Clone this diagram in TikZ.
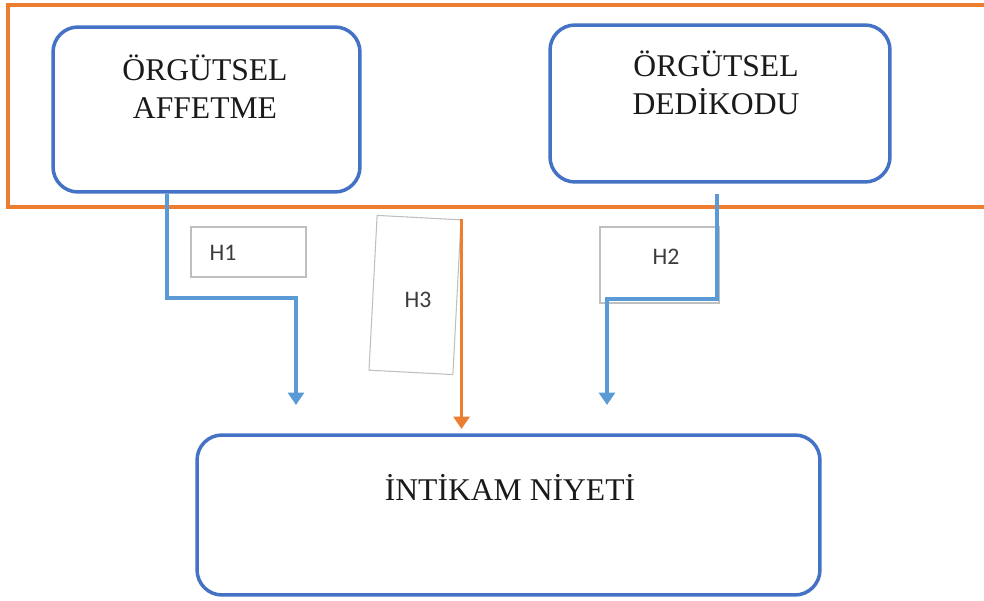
\documentclass[tikz,border=0pt]{standalone}
\usepackage{fontspec}
\setmainfont{Liberation Serif}
\newfontfamily\hfont{Carlito}
\usepackage{xcolor}
\usepackage{tikz}
\usetikzlibrary{arrows.meta}
\definecolor{frameor}{HTML}{ED7D31}
\definecolor{boxblue}{HTML}{4472C4}
\definecolor{linkblue}{HTML}{5B9BD5}
\definecolor{hgray}{HTML}{BFBFBF}
\definecolor{ink}{HTML}{1A1A1A}
\tikzset{
  grp/.style={draw=frameor, line width=2.3pt},
  varbox/.style={draw=boxblue, line width=2pt, rounded corners=0.5cm, inner sep=0pt},
  vartxt/.style={text=ink, font=\fontsize{18}{21.5}\selectfont, align=center, inner sep=0pt},
  hbox/.style={draw=hgray, line width=0.6pt, inner sep=0pt},
  htxt/.style={text=ink!85, font=\hfont\fontsize{13.5}{16}\selectfont, inner sep=0pt},
  link/.style={draw=linkblue, line width=2.2pt, -{Triangle[width=9pt,length=7pt]}},
  olink/.style={draw=frameor, line width=1.8pt, -{Triangle[width=9pt,length=7pt]}}
}
\begin{document}
\begin{tikzpicture}[x=0.02cm, y=-0.02cm]
\clip (0,0) rectangle (984,601);
% frame round the two predictors
\draw[grp] (8,5) rectangle (1010,207);

% variables
\node[varbox, minimum width=6.14cm, minimum height=3.3cm] (affet) at (206.5,109.5) {};
\node[vartxt] (affettxt) at (205,87) {ÖRGÜTSEL\\AFFETME};
\node[varbox, minimum width=6.8cm, minimum height=3.14cm] (dedi) at (720,103.5) {};
\node[vartxt] (deditxt) at (716,83) {ÖRGÜTSEL\\DEDİKODU};
\node[varbox, minimum width=12.46cm, minimum height=3.2cm] (niyet) at (508.5,515) {};
\node[vartxt] (niyettxt) at (510,487) {İNTİKAM NİYETİ};

% hypothesis labels
\node[hbox, minimum width=2.3cm, minimum height=1cm] (h1box) at (248.5,252) {};
\node[htxt] (h1) at (223,253) {H1};
\node[hbox, minimum width=2.38cm, minimum height=1.52cm] (h2box) at (659.5,265) {};
\node[htxt] (h2) at (666,257) {H2};
\node[hbox, rotate=-3, minimum width=1.68cm, minimum height=3.1cm] (h3box) at (415,295) {};
\node[htxt] (h3) at (418,300) {H3};

% paths
\coordinate (h1tip) at (296,405);
\coordinate (h2tip) at (607,405);
\coordinate (h3tip) at (462,429);
\draw[link] ([xshift=-0.79cm]affet.south) -- ++(0,104) -| (h1tip);
\draw[link] ([xshift=-0.06cm,yshift=-0.2cm]dedi.south) -- ++(0,105) -| (h2tip);
\draw[olink] (h3box.north east) -- (h3box.north east |- h3tip);
\end{tikzpicture}
\end{document}
